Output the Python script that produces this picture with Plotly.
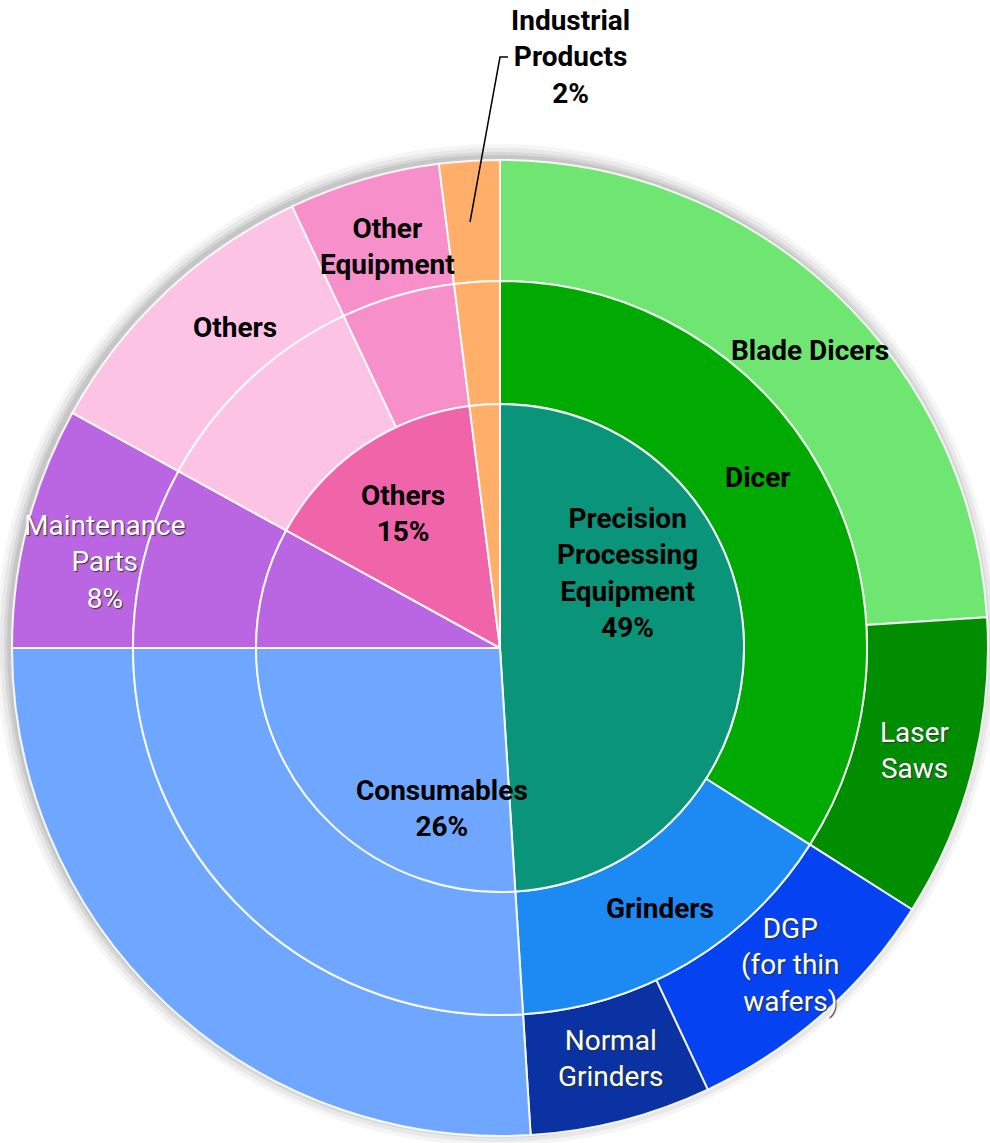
import plotly.graph_objects as go

# Sales breakdown by segment (percent of total), three concentric rings
inner_labels = ["Precision Processing Equipment", "Consumables", "Maintenance Parts",
                "Others", "Industrial Products"]
inner_values = [49, 26, 8, 15, 2]
inner_colors = ["#0a947a", "#6fa6ff", "#ba66e2", "#f064aa", "#ffaf6a"]

middle_labels = ["Dicer", "Grinders", "Consumables", "Maintenance Parts",
                 "Others", "Other Equipment", "Industrial Products"]
middle_values = [34, 15, 26, 8, 10, 5, 2]
middle_colors = ["#00aa00", "#1c8af2", "#6fa6ff", "#ba66e2", "#fcc3e4", "#f78fca", "#ffaf6a"]

outer_labels = ["Blade Dicers", "Laser Saws", "DGP (for thin wafers)", "Normal Grinders",
                "Consumables", "Maintenance Parts", "Others", "Other Equipment",
                "Industrial Products"]
outer_values = [24, 10, 9, 6, 26, 8, 10, 5, 2]
outer_colors = ["#70e672", "#008e00", "#0442f2", "#0a32a2", "#6fa6ff", "#ba66e2",
                "#fcc3e4", "#f78fca", "#ffaf6a"]

W, H = 990, 1143
CX, CY = 500, 648          # ring centre in pixels
R_OUT, R_MID, R_IN = 488, 367, 244


def px(x):
    return x / W


def py(y):
    return 1 - y / H


def domain(r):
    return dict(x=[px(CX - r), px(CX + r)], y=[py(CY + r), py(CY - r)])


fig = go.Figure()

# soft drop shadow behind the outer ring
for dr, op in [(14, 0.04), (10, 0.05), (6, 0.07), (3, 0.08)]:
    fig.add_shape(type="circle", xref="paper", yref="paper",
                  x0=px(CX - R_OUT - dr - 2), x1=px(CX + R_OUT + dr - 4),
                  y0=py(CY + R_OUT + dr - 4), y1=py(CY - R_OUT - dr - 2),
                  fillcolor=f"rgba(0,0,0,{op})", line_width=0, layer="below")

ring_line = dict(color="rgba(255,255,255,0.9)", width=2)

fig.add_trace(go.Pie(labels=outer_labels, values=outer_values, domain=domain(R_OUT),
                     hole=R_MID / R_OUT, sort=False, direction="clockwise", rotation=0,
                     marker=dict(colors=outer_colors, line=ring_line),
                     textinfo="none", hoverinfo="label+value", showlegend=False))
fig.add_trace(go.Pie(labels=middle_labels, values=middle_values, domain=domain(R_MID),
                     hole=R_IN / R_MID, sort=False, direction="clockwise", rotation=0,
                     marker=dict(colors=middle_colors, line=ring_line),
                     textinfo="none", hoverinfo="label+value", showlegend=False))
fig.add_trace(go.Pie(labels=inner_labels, values=inner_values, domain=domain(R_IN),
                     sort=False, direction="clockwise", rotation=0,
                     marker=dict(colors=inner_colors, line=ring_line),
                     textinfo="none", hoverinfo="label+value", showlegend=False))

FONT = "Roboto, Liberation Sans, sans-serif"


def pct(v):
    return f"{v}%"


# label text, centre position in pixels, colour, bold
labels = [
    (f"Industrial<br>Products<br>{pct(inner_values[4])}", 570, 57, "black", True),
    ("Other<br>Equipment", 387, 247, "black", True),
    ("Others", 235, 327, "black", True),
    ("Blade Dicers", 810, 350, "black", True),
    ("Dicer", 758, 478, "black", True),
    (f"Others<br>{pct(inner_values[3])}", 403, 513, "black", True),
    (f"Precision<br>Processing<br>Equipment<br>{pct(inner_values[0])}", 627, 573, "black", True),
    (f"Maintenance<br>Parts<br>{pct(inner_values[2])}", 105, 562, "white", False),
    ("Laser<br>Saws", 915, 750, "white", False),
    (f"Consumables<br>{pct(inner_values[1])}", 442, 808, "black", True),
    ("Grinders", 660, 908, "black", True),
    ("DGP<br>(for thin<br>wafers)", 790, 965, "white", False),
    ("Normal<br>Grinders", 610, 1058, "white", False),
]

for text, x, y, color, bold in labels:
    fig.add_annotation(
        x=px(x), y=py(y), xref="paper", yref="paper", text=text, showarrow=False,
        xanchor="center", yanchor="middle", align="center",
        font=dict(family=FONT, size=28, color=color, weight="bold" if bold else "normal",
                  shadow="1px 1px 1px #333" if color == "white" else "none"),
    )

# leader line from the Industrial Products caption to its slice
fig.add_shape(type="path", xref="paper", yref="paper",
              path=f"M {px(508)} {py(57)} L {px(500)} {py(57)} L {px(470)} {py(222)}",
              line=dict(color="black", width=1.5))

fig.update_layout(width=W, height=H, margin=dict(l=0, r=0, t=0, b=0),
                  paper_bgcolor="white", plot_bgcolor="white")

fig.write_html("out.html")
